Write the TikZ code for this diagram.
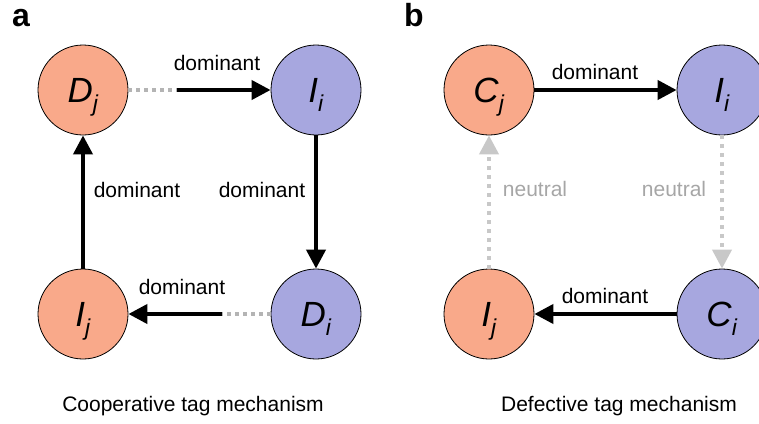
\documentclass[tikz,border=0pt]{standalone}
\usepackage{fontspec}
\setmainfont{Liberation Sans}
\usetikzlibrary{arrows.meta}
\usepackage{xcolor}
\definecolor{salmon}{HTML}{F9A98A}
\definecolor{lavender}{HTML}{A7A7DF}
\definecolor{dotgray}{HTML}{B4B4B4}
\definecolor{arrowgray}{HTML}{C8C8C8}
\definecolor{textgray}{HTML}{A6A6A6}
\newcommand{\tagname}[2]{\textit{#1}\raisebox{-9pt}{\fontsize{23}{23}\selectfont\textit{#2}}}

\tikzset{
    agent/.style={circle, draw=black, line width=0.8pt, minimum size=90pt, inner sep=0pt,
        text height=24pt, text depth=0pt, font=\fontsize{35}{35}\selectfont},
    redagent/.style={agent, fill=salmon},
    blueagent/.style={agent, fill=lavender},
    dom/.style={line width=4pt, -{Triangle[length=19pt,width=19pt]}},
    neutral/.style={line width=4pt, dotgray, dash pattern=on 4pt off 4pt},
    neutralarrow/.style={line width=4pt, arrowgray, dash pattern=on 4pt off 5pt,
        -{Triangle[length=19pt,width=19pt]}},
    lbl/.style={anchor=base, font=\fontsize{21}{21}\selectfont},
    panel/.style={anchor=base, font=\fontsize{32}{32}\selectfont\bfseries},
}

\begin{document}
\begin{tikzpicture}[x=1pt, y=-1pt]
        \useasboundingbox (0,0) rectangle (759,423);
        \clip (0,0) rectangle (759,423);
        \node[panel] (pa) at (21,26) {a};
        \node[panel] (pb) at (414,26) {b};
        \node[redagent] (dj) at (83,90) {\tagname{D}{j}};
        \node[blueagent] (ii) at (316,90) {\tagname{I}{i}};
        \node[redagent] (ij) at (83,314) {\tagname{I}{j}};
        \node[blueagent] (di) at (316,314) {\tagname{D}{i}};
        \coordinate (topmid) at (177,90);
        \coordinate (botmid) at (222,314);
        \draw[neutral] (dj) -- (topmid);
        \draw[dom] (topmid) -- (ii);
        \draw[dom] (ii) -- (di);
        \draw[neutral] (di) -- (botmid);
        \draw[dom] (botmid) -- (ij);
        \draw[dom] (ij) -- (dj);
        \node[lbl] (ta) at (217,70) {dominant};
        \node[lbl] (ra) at (262,197) {dominant};
        \node[lbl] (ba) at (182,294) {dominant};
        \node[lbl] (la) at (137,197) {dominant};
        \node[lbl] (capa) at (193,411) {Cooperative tag mechanism};
        \node[redagent] (cj) at (489,90) {\tagname{C}{j}};
        \node[blueagent] (iib) at (722,90) {\tagname{I}{i}};
        \node[redagent] (ijb) at (489,314) {\tagname{I}{j}};
        \node[blueagent] (ci) at (722,314) {\tagname{C}{i}};
        \draw[dom] (cj) -- (iib);
        \draw[neutralarrow] (iib) -- (ci);
        \draw[dom] (ci) -- (ijb);
        \draw[neutralarrow] (ijb) -- (cj);
        \node[lbl] (tb) at (595,79) {dominant};
        \node[lbl, textgray] (rb) at (674,196) {neutral};
        \node[lbl] (bb) at (605,303) {dominant};
        \node[lbl, textgray] (lb) at (535,196) {neutral};
        \node[lbl] (capb) at (619,411) {Defective tag mechanism};
    \end{tikzpicture}
\end{document}
